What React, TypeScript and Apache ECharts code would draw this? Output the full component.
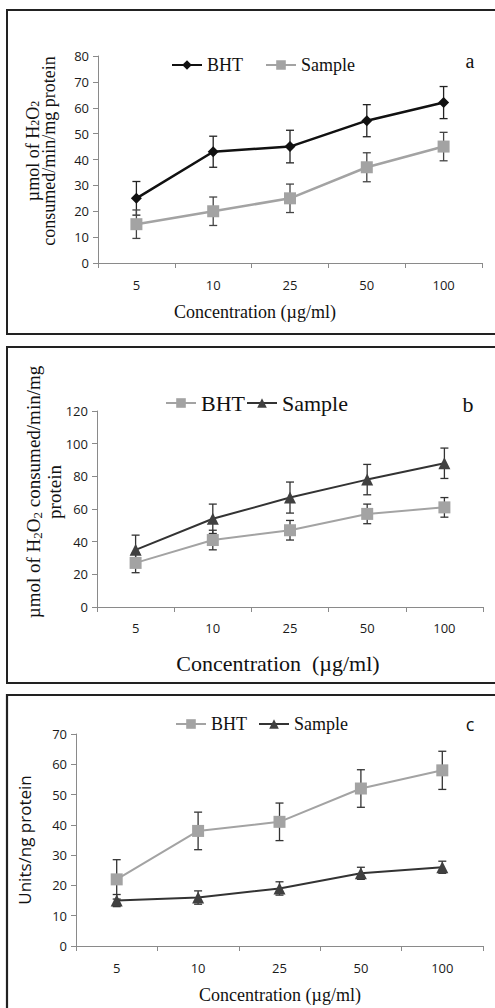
import React, { useEffect, useRef } from "react";
import * as echarts from "echarts";

const categories = ["5", "10", "25", "50", "100"];

// Panel a
const aBHT = [25, 43, 45, 55, 62];
const aBHTErr = [6.5, 6, 6.3, 6.2, 6.2];
const aSample = [15, 20, 25, 37, 45];
const aSampleErr = [5.5, 5.5, 5.5, 5.6, 5.5];
const aTicks = { min: 0, max: 80, interval: 10 };

// Panel b
const bBHT = [27, 41, 47, 57, 61];
const bBHTErr = [6, 6, 6, 6, 6];
const bSample = [35, 54, 67, 78, 88];
const bSampleErr = [9, 9, 9.5, 9.3, 9.3];
const bTicks = { min: 0, max: 120, interval: 20 };

// Panel c
const cBHT = [22, 38, 41, 52, 58];
const cBHTErr = [6.5, 6.2, 6.2, 6.2, 6.3];
const cSample = [15, 16, 19, 24, 26];
const cSampleErr = [2, 2.2, 2.2, 2, 2];
const cTicks = { min: 0, max: 70, interval: 10 };

const SERIF = "'Liberation Serif', 'DejaVu Serif', serif";
const SANS = "'Open Sans', 'Liberation Sans', sans-serif";

const errData = (vals: number[], errs: number[]) =>
  vals.map((v, i) => [i, v - errs[i], v + errs[i]]);

const errSeries = (name: string, gi: number, vals: number[], errs: number[], color: string) => ({
  type: "custom",
  name,
  xAxisIndex: gi,
  yAxisIndex: gi,
  z: 1,
  silent: true,
  encode: { x: 0, y: [1, 2] },
  data: errData(vals, errs),
  renderItem: (params: any, api: any) => {
    const x = api.value(0);
    const top = api.coord([x, api.value(2)]);
    const bot = api.coord([x, api.value(1)]);
    const w = 4;
    const style = { stroke: color, lineWidth: 1.3 };
    return {
      type: "group",
      children: [
        { type: "line", shape: { x1: top[0], y1: top[1], x2: bot[0], y2: bot[1] }, style },
        { type: "line", shape: { x1: top[0] - w, y1: top[1], x2: top[0] + w, y2: top[1] }, style },
        { type: "line", shape: { x1: bot[0] - w, y1: bot[1], x2: bot[0] + w, y2: bot[1] }, style },
      ],
    };
  },
});

const lineSeries = (
  name: string,
  gi: number,
  vals: number[],
  color: string,
  lineColor: string,
  symbol: string,
  size: number,
  width: number
) => ({
  type: "line",
  name,
  xAxisIndex: gi,
  yAxisIndex: gi,
  z: 3,
  data: vals,
  symbol,
  symbolSize: size,
  showAllSymbol: true,
  itemStyle: { color, borderColor: color, borderWidth: 0 },
  lineStyle: { color: lineColor, width },
});

const axisCommon = {
  axisLine: { show: true, lineStyle: { color: "#8a8a8a", width: 1 } },
  axisTick: { show: true, inside: false, length: 5, lineStyle: { color: "#8a8a8a" } },
  splitLine: { show: false },
};

const makeX = (gi: number, margin: number) => ({
  type: "category",
  gridIndex: gi,
  data: categories,
  boundaryGap: true,
  ...axisCommon,
  axisTick: { ...axisCommon.axisTick, alignWithLabel: false },
  axisLabel: { fontFamily: SANS, fontSize: 13, color: "#1a1a1a", margin },
});

const makeY = (gi: number, t: { min: number; max: number; interval: number }) => ({
  type: "value",
  gridIndex: gi,
  min: t.min,
  max: t.max,
  interval: t.interval,
  ...axisCommon,
  axisLabel: { fontFamily: SANS, fontSize: 13, color: "#1a1a1a", margin: 9 },
});

const legendFor = (names: string[], left: number, top: number, gap: number, fontSize: number) => ({
  left,
  top,
  orient: "horizontal",
  itemWidth: 30,
  itemHeight: 12,
  itemGap: gap,
  selectedMode: false,
  data: names,
  formatter: (n: string) => n.split("-")[0],
  textStyle: { fontFamily: SERIF, fontSize, color: "#111" },
});

const txt = (x: number, y: number, text: string, fontSize: number, font: string, extra: any = {}) => ({
  type: "text",
  x,
  y,
  silent: true,
  ...extra,
  style: {
    text,
    fontSize,
    fontFamily: font,
    fill: "#111",
    align: "center",
    verticalAlign: "middle",
    ...(extra.style || {}),
  },
});

export default function App() {
  const ref = useRef<HTMLDivElement>(null);
  useEffect(() => {
    document.body.style.margin = "0";
    const chart = echarts.init(ref.current!, undefined, { renderer: "svg" });
    const option: any = {
      animation: false,
      backgroundColor: "#ffffff",
      grid: [
        { left: 98, top: 56, width: 384, height: 207 },
        { left: 97, top: 411, width: 386, height: 196 },
        { left: 76, top: 734, width: 407, height: 212 },
      ],
      xAxis: [makeX(0, 15), makeX(1, 14), makeX(2, 15)],
      yAxis: [makeY(0, aTicks), makeY(1, bTicks), makeY(2, cTicks)],
      legend: [
        legendFor(["BHT-a", "Sample-a"], 166, 51, 22, 18),
        legendFor(["BHT-b", "Sample-b"], 160, 387, 1, 22),
        legendFor(["BHT-c", "Sample-c"], 170, 710, 11, 18),
      ],
      series: [
        errSeries("errA1", 0, aBHT, aBHTErr, "#222"),
        errSeries("errA2", 0, aSample, aSampleErr, "#444"),
        lineSeries("BHT-a", 0, aBHT, "#111", "#111", "diamond", 11, 2.5),
        lineSeries("Sample-a", 0, aSample, "#a3a3a3", "#a3a3a3", "rect", 12, 2.5),

        errSeries("errB1", 1, bBHT, bBHTErr, "#333"),
        errSeries("errB2", 1, bSample, bSampleErr, "#333"),
        lineSeries("BHT-b", 1, bBHT, "#a3a3a3", "#a3a3a3", "rect", 12, 2),
        lineSeries("Sample-b", 1, bSample, "#404040", "#333", "triangle", 12, 2),

        errSeries("errC1", 2, cBHT, cBHTErr, "#333"),
        errSeries("errC2", 2, cSample, cSampleErr, "#333"),
        lineSeries("BHT-c", 2, cBHT, "#a3a3a3", "#a3a3a3", "rect", 12, 2),
        lineSeries("Sample-c", 2, cSample, "#404040", "#333", "triangle", 12, 2),
      ],
      graphic: [
        { type: "rect", silent: true, shape: { x: 7, y: 10, width: 500, height: 324 }, style: { fill: "none", stroke: "#222", lineWidth: 2 } },
        { type: "rect", silent: true, shape: { x: 7, y: 347, width: 500, height: 336 }, style: { fill: "none", stroke: "#222", lineWidth: 2 } },
        { type: "rect", silent: true, shape: { x: 7, y: 695, width: 500, height: 400 }, style: { fill: "none", stroke: "#222", lineWidth: 2.2 } },

        // panel letters
        txt(470, 61, "a", 20, SERIF),
        txt(468, 404, "b", 22, SERIF),
        txt(470, 724, "c", 18, SANS),

        // y-axis titles
        txt(41, 151, "", 18, SERIF, {
          rotation: Math.PI / 2,
          style: {
            text: "{n|µmol of H}{s|2}{n|O}{s|2}\n{n|consumed/min/mg protein}",
            rich: {
              n: { fontSize: 18, fontFamily: SERIF, lineHeight: 16, fill: "#111" },
              s: { fontSize: 12, fontFamily: SERIF, lineHeight: 4, verticalAlign: "bottom", fill: "#111" },
            },
          },
        }),
        txt(44, 492, "", 19, SERIF, {
          rotation: Math.PI / 2,
          style: {
            text: "{n|µmol of H}{s|2}{n|O}{s|2}{n| consumed/min/mg}\n{n|protein}",
            rich: {
              n: { fontSize: 19, fontFamily: SERIF, lineHeight: 21, fill: "#111" },
              s: { fontSize: 13, fontFamily: SERIF, lineHeight: 5, verticalAlign: "bottom", fill: "#111" },
            },
          },
        }),
        txt(24, 840, "Units/ng protein", 17, SANS, { rotation: Math.PI / 2 }),

        // x-axis titles
        txt(255, 312, "Concentration (µg/ml)", 18, SERIF),
        txt(278, 663, "Concentration  (µg/ml)", 22, SERIF),
        txt(280, 995, "Concentration (µg/ml)", 18, SERIF),
      ],
    };
    chart.setOption(option);
    return () => chart.dispose();
  }, []);
  return <div ref={ref} style={{ width: 495, height: 1008 }} />;
}
